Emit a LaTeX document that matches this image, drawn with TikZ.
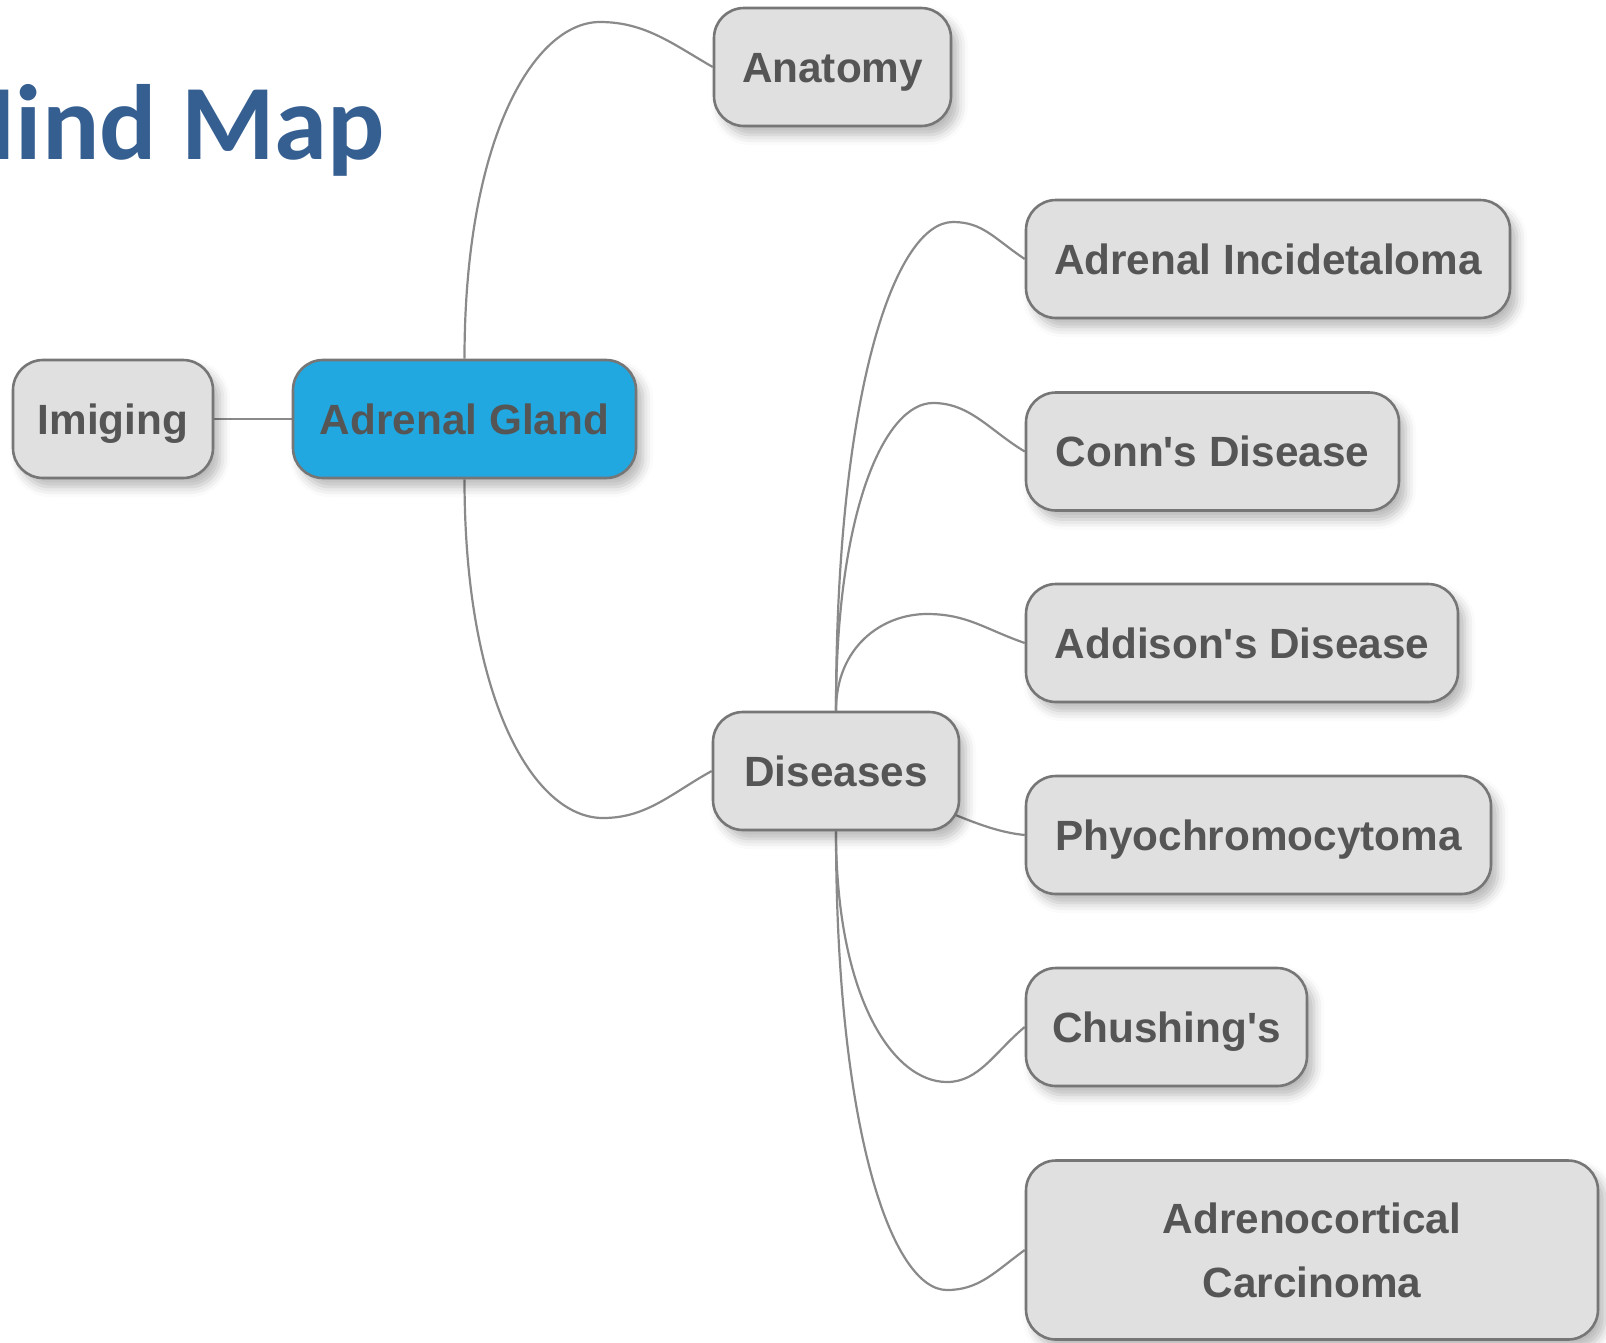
\documentclass[tikz,border=0pt]{standalone}
\usepackage{fontspec}
\newfontfamily\boxfont{Liberation Sans}
\newfontfamily\titlefont{Carlito}
\usetikzlibrary{shadows.blur,backgrounds,calc}
\definecolor{boxfill}{RGB}{224,224,224}
\definecolor{boxline}{RGB}{118,118,118}
\definecolor{txtc}{RGB}{85,85,85}
\definecolor{agblue}{RGB}{33,168,224}
\definecolor{linkc}{RGB}{138,138,138}
\definecolor{titleblue}{RGB}{54,95,145}
\begin{document}
\begin{tikzpicture}[x=1pt,y=-1pt,
  boxbase/.style={draw=boxline, line width=2.6pt, fill=boxfill, rounded corners=30pt,
    minimum height=118pt, inner sep=0pt, text=txtc, align=center,
    font=\boxfont\bfseries\fontsize{42.3}{64}\selectfont,
    blur shadow={shadow xshift=7pt, shadow yshift=-9pt, shadow blur radius=10pt, shadow opacity=28}},
  topic/.style={boxbase, text height=30.3pt, text depth=0pt},
  link/.style={draw=linkc, line width=2.2pt}]
\useasboundingbox (0,0) rectangle (1606,1342);
\clip (0,0) rectangle (1606,1342);

\node[anchor=base west, inner sep=0pt, text=titleblue,
  font=\titlefont\bfseries\fontsize{107}{110}\selectfont] (title) at (-78,159) {Mind Map};

\node[topic, minimum width=237pt] (anat) at (832.5,67) {Anatomy};
\node[topic, fill=agblue, minimum width=343pt] (ag) at (464.5,419) {Adrenal Gland};
\node[topic, minimum width=200pt] (img) at (113,419) {Imiging};
\node[topic, minimum width=246pt] (dis) at (836,771) {Diseases};
\node[topic, minimum width=484pt] (inc) at (1268,259) {Adrenal Incidetaloma};
\node[topic, minimum width=373pt] (conn) at (1212.5,451.5) {Conn's Disease};
\node[topic, minimum width=432pt] (addi) at (1242,643) {Addison's Disease};
\node[topic, minimum width=465pt] (phyo) at (1258.5,835) {Phyochromocytoma};
\node[topic, minimum width=281pt] (chu) at (1166.5,1027) {Chushing's};
\node[boxbase, minimum width=572pt, minimum height=179pt] (carc) at (1312,1250) {Adrenocortical\\Carcinoma};

\coordinate (kanat) at (600,22);
\coordinate (kdis) at (603,818);
\coordinate (kinc) at (953,222);
\coordinate (kconn) at (933,403);
\coordinate (kaddi) at (927,614);
\coordinate (kchu) at (947,1082);
\coordinate (kcarc) at (947,1290);

\begin{scope}[on background layer]
\draw[link] (img.east) -- (ag.west);
\draw[link] (ag.north) .. controls +(0,-220) and +(-66,0) .. (kanat)
  .. controls +(45,0) and +(-40,-23) .. (anat.west);
\draw[link] (ag.south) .. controls +(0,221) and +(-69,0) .. (kdis)
  .. controls +(44,0) and +(-40,22) .. (dis.west);
\draw[link] (dis.north) .. controls +(0,-319) and +(-58,0) .. (kinc)
  .. controls +(30,0) and +(-30,-20) .. (inc.west);
\draw[link] (dis.north) .. controls +(0,-201) and +(-48,0) .. (kconn)
  .. controls +(37,0) and +(-35,-21) .. (conn.west);
\draw[link] (dis.north) .. controls +(0,-64) and +(-45,0) .. (kaddi)
  .. controls +(40,0) and +(-40,-14) .. (addi.west);
\draw[link] (dis.center) .. controls +(100,30) and +(-50,-5) .. (phyo.west);
\draw[link] (dis.south) .. controls +(0,164) and +(-55,0) .. (kchu)
  .. controls +(32,0) and +(-30,25) .. (chu.west);
\draw[link] (dis.south) .. controls +(0,299) and +(-55,0) .. (kcarc)
  .. controls +(32,0) and +(-30,22) .. (carc.west);
\end{scope}
\end{tikzpicture}
\end{document}
